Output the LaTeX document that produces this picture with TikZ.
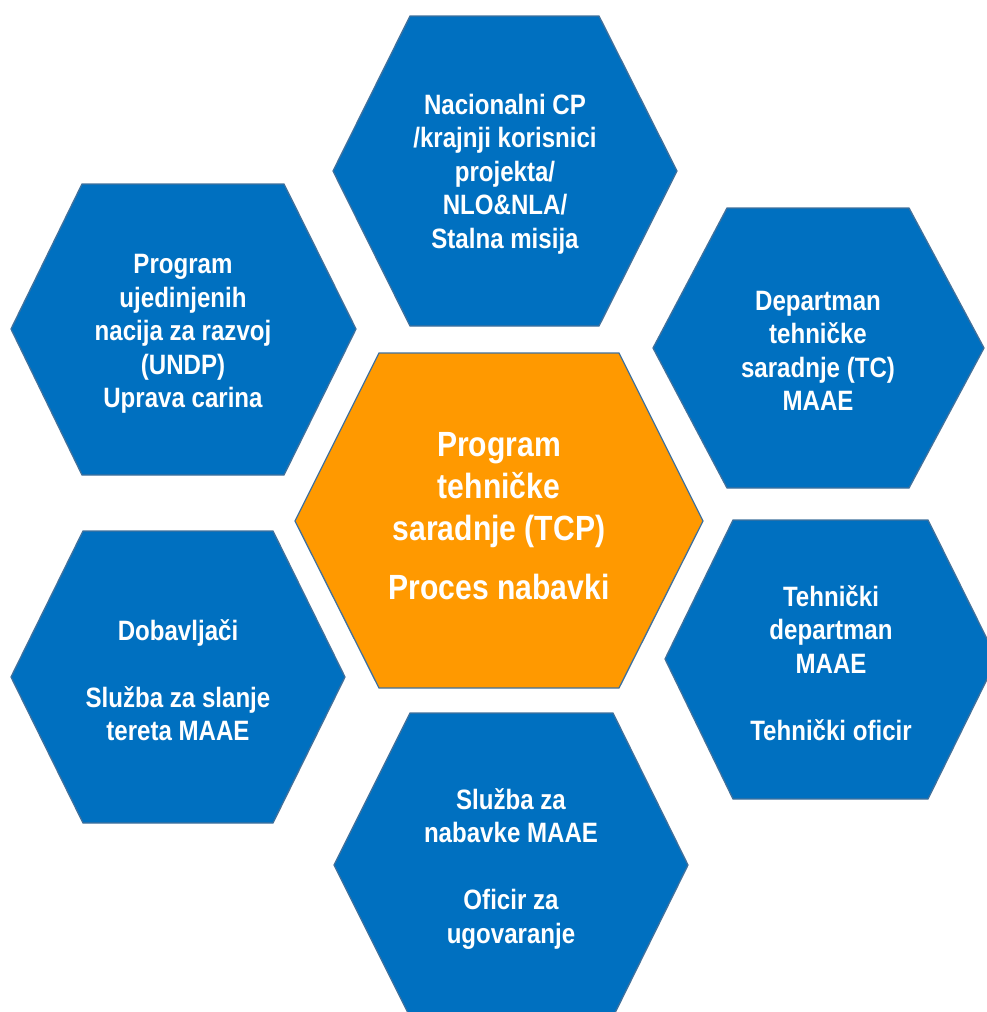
\documentclass[tikz,border=0pt]{standalone}
\usepackage{fontspec}
\setmainfont{Liberation Sans}[FakeStretch=0.86]
\definecolor{cellblue}{HTML}{0070C0}
\definecolor{cellorange}{HTML}{FF9900}
\definecolor{celledge}{HTML}{41719C}
\begin{document}
\begin{tikzpicture}[x=1pt,y=-1pt,
  cell/.style={draw=celledge, line width=1.3pt, line join=miter},
  bluecell/.style={cell, fill=cellblue},
  corecell/.style={cell, fill=cellorange},
  celltext/.style={text=white, align=center, inner sep=0pt,
    font=\fontsize{28}{33.5}\selectfont\bfseries},
  coretext/.style={text=white, align=center, inner sep=0pt,
    font=\fontsize{35}{42}\selectfont\bfseries}]
\useasboundingbox (0,0) rectangle (987,1012);

% hexagonal cells: left, top-left, top-right, right, bottom-right, bottom-left
\draw[bluecell] (333,171) -- (410,16) -- (599,16) -- (677,171) -- (599,326) -- (410,326) -- cycle;
\draw[bluecell] (11,329) -- (82,184) -- (284,184) -- (356,329) -- (284,475) -- (82,475) -- cycle;
\draw[bluecell] (653,348) -- (727,208) -- (909,208) -- (984,348) -- (909,488) -- (727,488) -- cycle;
\draw[bluecell] (11,677) -- (83,531) -- (273,531) -- (345,677) -- (273,823) -- (83,823) -- cycle;
\draw[bluecell] (665,659) -- (733,520) -- (928,520) -- (997,659) -- (928,799) -- (733,799) -- cycle;
\draw[bluecell] (334,865) -- (410,713) -- (613,713) -- (688,865) -- (613,1017) -- (410,1017) -- cycle;
\draw[corecell] (295,521) -- (379,353) -- (619,353) -- (703,521) -- (619,688) -- (379,688) -- cycle;

% labels
\node[coretext] (core) at (499,516) {Program\\tehničke\\saradnje (TCP)\\[17pt]Proces nabavki};
\node[celltext] (nac) at (505,174) {Nacionalni CP\\/krajnji korisnici\\projekta/\\NLO\&NLA/\\Stalna misija};
\node[celltext] (undp) at (183,334) {Program\\ujedinjenih\\nacija za razvoj\\(UNDP)\\Uprava carina};
\node[celltext] (tc) at (818,351) {Departman\\tehničke\\saradnje (TC)\\MAAE};
\node[celltext] (dob) at (178,680) {Dobavljači\\[33.5pt]Služba za slanje\\tereta MAAE};
\node[celltext] (teh) at (831,663) {Tehnički\\departman\\MAAE\\[33.5pt]Tehnički oficir};
\node[celltext] (nab) at (511,869) {Služba za\\nabavke MAAE\\[33.5pt]Oficir za\\ugovaranje};
\end{tikzpicture}
\end{document}
